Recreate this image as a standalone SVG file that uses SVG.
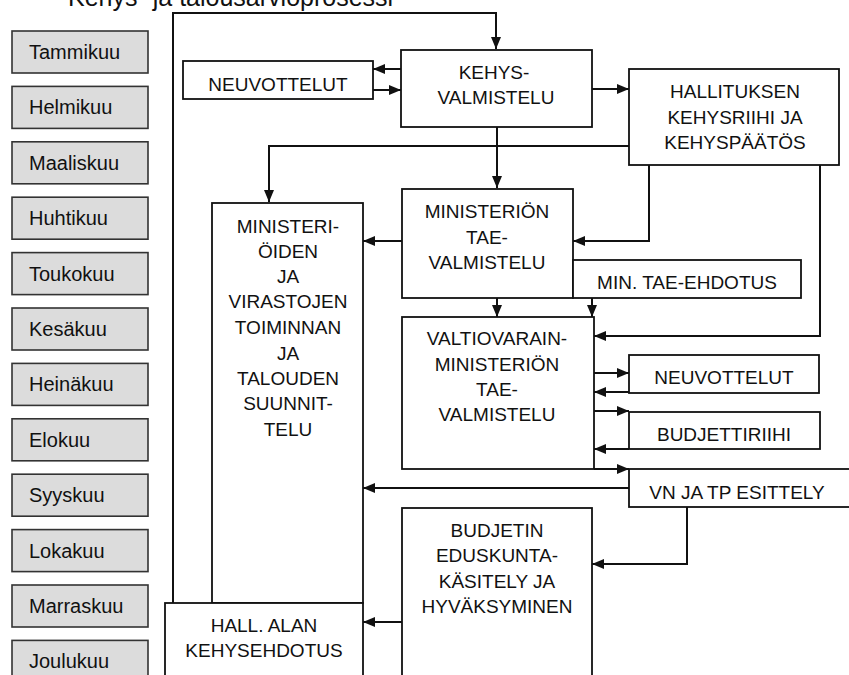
<svg xmlns="http://www.w3.org/2000/svg" width="849" height="675" viewBox="0 0 849 675">
<style>
.box{fill:#fff;stroke:#111;stroke-width:1.8}
.mon{fill:#dcdcdc;stroke:#333;stroke-width:1.6}
.lbl{font-family:"Liberation Sans",Arial,sans-serif;font-size:19px;fill:#111;text-anchor:middle}
.mt{font-family:"Liberation Sans",Arial,sans-serif;font-size:20px;fill:#111}
.ttl{font-family:"Liberation Sans",Arial,sans-serif;font-size:25px;fill:#111}
.c{fill:none;stroke:#111;stroke-width:2}
.ca{fill:none;stroke:#111;stroke-width:2;marker-end:url(#ah)}
</style>
<defs>
<marker id="ah" markerUnits="userSpaceOnUse" markerWidth="13" markerHeight="11" refX="12" refY="5" orient="auto">
<path d="M0,0 L12,5 L0,10 z" fill="#111"/>
</marker>
</defs>
<rect width="849" height="675" fill="#fff"/>
<text class="ttl" x="68" y="6">Kehys- ja talousarvioprosessi</text>

<g id="months">
<g id="m1"><rect class="mon" x="12" y="31" width="136" height="42"/><text class="mt" x="29" y="59">Tammikuu</text></g>
<g id="m2"><rect class="mon" x="12" y="86.4" width="136" height="42"/><text class="mt" x="29" y="114.4">Helmikuu</text></g>
<g id="m3"><rect class="mon" x="12" y="141.8" width="136" height="42"/><text class="mt" x="29" y="169.8">Maaliskuu</text></g>
<g id="m4"><rect class="mon" x="12" y="197.2" width="136" height="42"/><text class="mt" x="29" y="225.2">Huhtikuu</text></g>
<g id="m5"><rect class="mon" x="12" y="252.6" width="136" height="42"/><text class="mt" x="29" y="280.6">Toukokuu</text></g>
<g id="m6"><rect class="mon" x="12" y="308" width="136" height="42"/><text class="mt" x="29" y="336">Kesäkuu</text></g>
<g id="m7"><rect class="mon" x="12" y="363.4" width="136" height="42"/><text class="mt" x="29" y="391.4">Heinäkuu</text></g>
<g id="m8"><rect class="mon" x="12" y="418.8" width="136" height="42"/><text class="mt" x="29" y="446.8">Elokuu</text></g>
<g id="m9"><rect class="mon" x="12" y="474.2" width="136" height="42"/><text class="mt" x="29" y="502.2">Syyskuu</text></g>
<g id="m10"><rect class="mon" x="12" y="529.6" width="136" height="42"/><text class="mt" x="29" y="557.6">Lokakuu</text></g>
<g id="m11"><rect class="mon" x="12" y="585" width="136" height="42"/><text class="mt" x="29" y="613">Marraskuu</text></g>
<g id="m12"><rect class="mon" x="12" y="640.4" width="136" height="42"/><text class="mt" x="29" y="668.4">Joulukuu</text></g>
</g>

<g id="connectors">
<path class="ca" d="M173,603 V13 H496 V49"/>
<path class="ca" d="M401,69 H373"/>
<path class="ca" d="M373,90 H401"/>
<path class="ca" d="M592,89 H629"/>
<path class="ca" d="M629,146 H269 V202"/>
<path class="ca" d="M497,127 V188"/>
<path class="ca" d="M402,241 H363"/>
<path class="ca" d="M649,165 V241 H573"/>
<path class="ca" d="M820,165 V336 H594"/>
<path class="ca" d="M497,298 V317"/>
<path class="ca" d="M592,298 V317"/>
<path class="ca" d="M591,373 H629"/>
<path class="ca" d="M629,392 H594"/>
<path class="ca" d="M591,411 H629"/>
<path class="ca" d="M629,449 H594"/>
<path class="ca" d="M594,469 H629"/>
<path class="ca" d="M629,488 H363"/>
<path class="ca" d="M687,507 V564 H592"/>
<path class="ca" d="M402,622 H363"/>
</g>

<g id="neuvottelut1"><rect class="box" x="183" y="61" width="190" height="38"/><text class="lbl" x="278" y="91">NEUVOTTELUT</text></g>
<g id="kehysvalmistelu"><rect class="box" x="401" y="50" width="191" height="77"/><text class="lbl" x="494" y="79">KEHYS-</text><text class="lbl" x="496" y="104">VALMISTELU</text></g>
<g id="hallituksen"><rect class="box" x="629" y="69" width="210" height="96"/><text class="lbl" x="735" y="98">HALLITUKSEN</text><text class="lbl" x="735" y="124">KEHYSRIIHI JA</text><text class="lbl" x="735" y="149">KEHYSPÄÄTÖS</text></g>
<g id="ministerioiden"><rect class="box" x="212" y="203" width="151" height="400"/>
<text class="lbl" x="288" y="233">MINISTERI-</text><text class="lbl" x="288" y="258">ÖIDEN</text><text class="lbl" x="288" y="283">JA</text><text class="lbl" x="288" y="308">VIRASTOJEN</text><text class="lbl" x="288" y="334">TOIMINNAN</text><text class="lbl" x="288" y="360">JA</text><text class="lbl" x="288" y="385">TALOUDEN</text><text class="lbl" x="288" y="410">SUUNNIT-</text><text class="lbl" x="288" y="436">TELU</text></g>
<g id="ministerion"><rect class="box" x="402" y="189" width="171" height="109"/><text class="lbl" x="487" y="218">MINISTERIÖN</text><text class="lbl" x="487" y="244">TAE-</text><text class="lbl" x="487" y="269">VALMISTELU</text></g>
<g id="minehdotus"><rect class="box" x="573" y="260" width="228" height="38"/><text class="lbl" x="687" y="289">MIN. TAE-EHDOTUS</text></g>
<g id="valtiovarain"><rect class="box" x="402" y="317" width="192" height="152"/><text class="lbl" x="497" y="345">VALTIOVARAIN-</text><text class="lbl" x="497" y="371">MINISTERIÖN</text><text class="lbl" x="497" y="396">TAE-</text><text class="lbl" x="497" y="421">VALMISTELU</text></g>
<g id="neuvottelut2"><rect class="box" x="629" y="355" width="190" height="38"/><text class="lbl" x="724" y="384">NEUVOTTELUT</text></g>
<g id="budjettiriihi"><rect class="box" x="629" y="412" width="191" height="37"/><text class="lbl" x="724" y="441">BUDJETTIRIIHI</text></g>
<g id="vnjatp"><rect class="box" x="629" y="469" width="230" height="38"/><text class="lbl" x="737" y="499">VN JA TP ESITTELY</text></g>
<g id="budjetin"><rect class="box" x="402" y="508" width="190" height="180"/><text class="lbl" x="497" y="537">BUDJETIN</text><text class="lbl" x="497" y="562">EDUSKUNTA-</text><text class="lbl" x="497" y="588">KÄSITELY JA</text><text class="lbl" x="497" y="613">HYVÄKSYMINEN</text></g>
<g id="hallalan"><rect class="box" x="165" y="603" width="198" height="85"/><text class="lbl" x="264" y="632">HALL. ALAN</text><text class="lbl" x="264" y="657">KEHYSEHDOTUS</text></g>
</svg>
